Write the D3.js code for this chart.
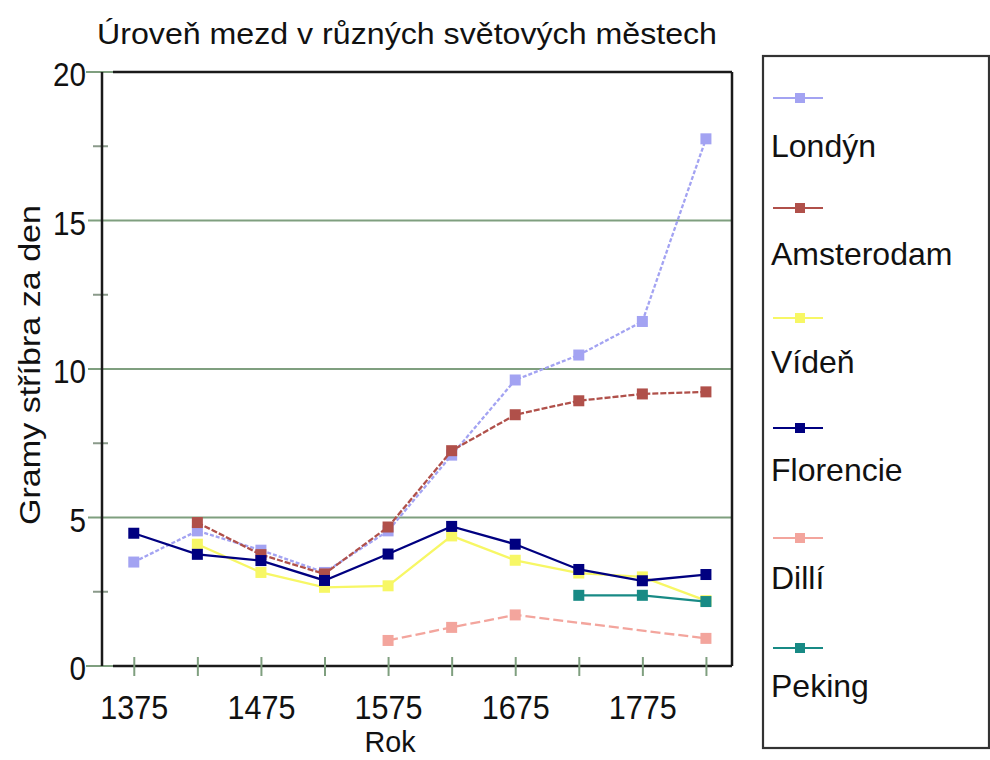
<!DOCTYPE html>
<html>
<head>
<meta charset="utf-8">
<script src="https://cdn.jsdelivr.net/npm/d3@7"></script>
<style>
  html, body { margin: 0; padding: 0; background: #fff; }
  svg { display: block; font-family: "Liberation Sans", Arial, sans-serif; }
</style>
</head>
<body>
<svg id="chart" width="990" height="760"></svg>
<script>
// ---- data ----
const years = [1375, 1425, 1475, 1525, 1575, 1625, 1675, 1725, 1775, 1825];
const xTickLabels = [1375, 1475, 1575, 1675, 1775];
const yTickLabels = [0, 5, 10, 15, 20];
const yMinorTicks = [2.5, 7.5, 12.5, 17.5];
const yGridValues = [5, 10, 15];

const cityNames = ["Londýn", "Amsterodam", "Vídeň", "Florencie", "Dillí", "Peking"];
const london    = [3.5, 4.55, 3.9, 3.15, 4.55, 7.1, 9.63, 10.47, 11.6, 17.75];
const amsterdam = [null, 4.83, 3.75, 3.1, 4.68, 7.25, 8.46, 8.93, 9.16, 9.23];
const vienna    = [null, 4.1, 3.15, 2.65, 2.7, 4.38, 3.56, 3.13, 3.0, 2.2];
const florence  = [4.47, 3.76, 3.55, 2.88, 3.77, 4.7, 4.1, 3.25, 2.87, 3.08];
const delhi     = [null, null, null, null, 0.86, 1.3, 1.72, null, null, 0.93];
const peking    = [null, null, null, null, null, null, null, 2.38, 2.38, 2.17];

const seriesValues = [london, amsterdam, vienna, florence, delhi, peking];
const seriesColors = ["#a3a3f2", "#b0504a", "#f7f765", "#000080", "#f3a59d", "#188a85"];
const seriesDash   = ["4,2", "6,2", null, null, "10,4", null];

const chartTitle = "Úroveň mezd v různých světových městech";
const xTitle = "Rok";
const yTitle = "Gramy stříbra za den";

(function () {
  const svg = d3.select("#chart");
  const pLeft = 102, pRight = 732, pTop = 72, pBottom = 666;
  const x = d3.scaleLinear().domain([1350, 1845.5]).range([pLeft, pRight]);
  const y = d3.scaleLinear().domain([0, 20]).range([pBottom, pTop]);
  const gridColor = "#7f9f7f";

  // gridlines
  svg.append("g").selectAll("line").data(yGridValues).join("line")
    .attr("x1", 88).attr("x2", pRight)
    .attr("y1", d => y(d)).attr("y2", d => y(d))
    .attr("stroke", gridColor).attr("stroke-width", 2);

  // gray stubs at 0 and 20
  svg.append("g").selectAll("line").data([0, 20]).join("line")
    .attr("x1", 86).attr("x2", 114)
    .attr("y1", d => y(d)).attr("y2", d => y(d))
    .attr("stroke", gridColor).attr("stroke-width", 2);

  // minor y ticks
  svg.append("g").selectAll("line").data(yMinorTicks).join("line")
    .attr("x1", pLeft - 9).attr("x2", pLeft + 6)
    .attr("y1", d => y(d)).attr("y2", d => y(d))
    .attr("stroke", "#8a9a8a").attr("stroke-width", 2);

  // frame
  const frame = svg.append("g").attr("stroke", "#1a1a1a").attr("stroke-width", 2.5).attr("fill", "none");
  frame.append("line").attr("x1", pLeft).attr("x2", pLeft).attr("y1", pTop).attr("y2", pBottom);
  frame.append("line").attr("x1", 113).attr("x2", pRight).attr("y1", pTop).attr("y2", pTop);
  frame.append("line").attr("x1", 113).attr("x2", pRight).attr("y1", pBottom).attr("y2", pBottom);
  frame.append("line").attr("x1", pRight).attr("x2", pRight).attr("y1", pTop).attr("y2", pBottom);

  // x axis
  const xAxis = svg.append("g").attr("transform", `translate(0,${pBottom})`)
    .call(d3.axisBottom(x).tickValues(years)
      .tickFormat(d => xTickLabels.includes(d) ? String(d) : "").tickSize(0));
  xAxis.select(".domain").remove();
  xAxis.selectAll(".tick line").attr("y1", -9).attr("y2", 10)
    .attr("stroke", gridColor).attr("stroke-width", 2);
  xAxis.selectAll(".tick text").attr("y", 53).attr("dy", null)
    .attr("font-size", 33).attr("fill", "#111")
    .attr("font-family", "'Liberation Sans', Arial, sans-serif")
    .attr("textLength", function () { return this.textContent.length ? 68 : null; })
    .attr("lengthAdjust", "spacingAndGlyphs");

  // y axis labels
  const yAxis = svg.append("g").attr("transform", `translate(${pLeft},0)`)
    .call(d3.axisLeft(y).tickValues(yTickLabels).tickSize(0).tickFormat(d3.format("d")));
  yAxis.select(".domain").remove();
  yAxis.selectAll(".tick line").remove();
  yAxis.selectAll(".tick text").attr("x", -16).attr("dy", "0.42em")
    .attr("font-size", 33).attr("fill", "#111")
    .attr("font-family", "'Liberation Sans', Arial, sans-serif")
    .attr("textLength", function () { return this.textContent.length * 16.5; })
    .attr("lengthAdjust", "spacingAndGlyphs");

  // series
  const line = d3.line().x(d => x(d.year)).y(d => y(d.v));
  seriesValues.forEach((vals, i) => {
    const pts = years.map((yr, j) => ({ year: yr, v: vals[j] }));
    const defined = pts.filter(p => p.v != null);
    const g = svg.append("g");
    g.append("path").datum(defined).attr("d", line)
      .attr("fill", "none").attr("stroke", seriesColors[i]).attr("stroke-width", 2.3)
      .attr("stroke-dasharray", seriesDash[i]);
    g.selectAll("rect").data(defined).join("rect")
      .attr("x", d => x(d.year) - 5.5).attr("y", d => y(d.v) - 5.5)
      .attr("width", 11).attr("height", 11).attr("fill", seriesColors[i]);
  });

  // title
  svg.append("text").attr("x", 97).attr("y", 44).text(chartTitle)
    .attr("font-size", 30).attr("fill", "#111")
    .attr("textLength", 620).attr("lengthAdjust", "spacingAndGlyphs");

  // x title
  svg.append("text").attr("x", 390).attr("y", 752).attr("text-anchor", "middle")
    .text(xTitle).attr("font-size", 30).attr("fill", "#111")
    .attr("textLength", 51).attr("lengthAdjust", "spacingAndGlyphs");

  // y title
  svg.append("text").attr("transform", "translate(40,365) rotate(-90)")
    .attr("text-anchor", "middle").text(yTitle)
    .attr("font-size", 29).attr("fill", "#111")
    .attr("textLength", 320).attr("lengthAdjust", "spacingAndGlyphs");

  // legend
  const lg = svg.append("g");
  lg.append("rect").attr("x", 763).attr("y", 56).attr("width", 226).attr("height", 692)
    .attr("fill", "#fff").attr("stroke", "#333").attr("stroke-width", 2.2);
  cityNames.forEach((name, i) => {
    const ly = 98 + i * 110;
    lg.append("line").attr("x1", 773).attr("x2", 823).attr("y1", ly).attr("y2", ly)
      .attr("stroke", seriesColors[i]).attr("stroke-width", 2.2);
    lg.append("rect").attr("x", 795).attr("y", ly - 5).attr("width", 10).attr("height", 10)
      .attr("fill", seriesColors[i]);
    lg.append("text").attr("x", 771).attr("y", 157 + i * 108).text(name)
      .attr("font-size", 32).attr("fill", "#111");
  });
})();
</script>
</body>
</html>
